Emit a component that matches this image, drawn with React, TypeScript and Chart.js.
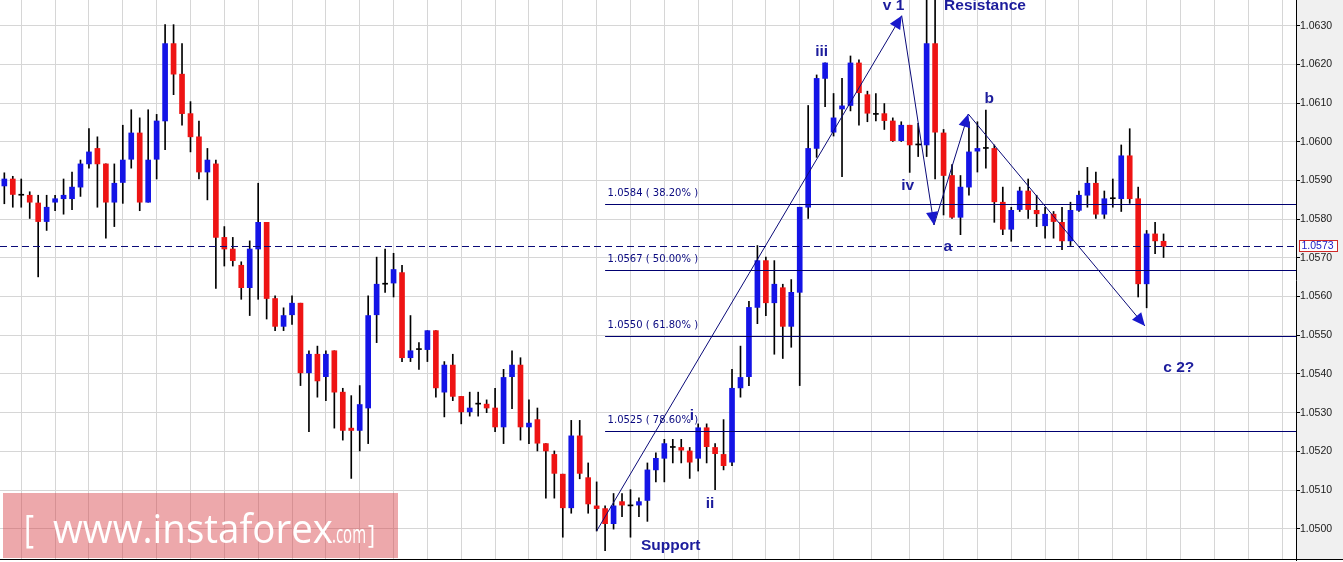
import { useEffect, useRef } from 'react';
import { Chart, registerables } from 'chart.js';

Chart.register(...registerables);

// ---- candle data (EURUSD-like), index 0..137 ----
const opens = [
  1.05886, 1.05904, 1.05862, 1.05862, 1.05842, 1.05794, 1.05844, 1.05853, 1.05853, 1.05883,
  1.05943, 1.05983, 1.05943, 1.05844, 1.05895, 1.05955, 1.06023, 1.05844, 1.05955, 1.06054,
  1.06254, 1.06175, 1.06073, 1.06013, 1.05922, 1.05943, 1.05753, 1.05723, 1.05681, 1.05623,
  1.05723, 1.05792, 1.05595, 1.05523, 1.05553, 1.05583, 1.05403, 1.05451, 1.05393, 1.05460,
  1.05353, 1.05260, 1.05254, 1.05312, 1.05553, 1.05632, 1.05635, 1.05662, 1.05442, 1.05463,
  1.05463, 1.05512, 1.05353, 1.05423, 1.05342, 1.05302, 1.05322, 1.05322, 1.05312, 1.05263,
  1.05393, 1.05423, 1.05263, 1.05282, 1.05220, 1.05192, 1.05141, 1.05054, 1.05240, 1.05132,
  1.05059, 1.05052, 1.05013, 1.05070, 1.05059, 1.05061, 1.05073, 1.05152, 1.05182, 1.05210,
  1.05210, 1.05201, 1.05182, 1.05261, 1.05210, 1.05192, 1.05172, 1.05364, 1.05393, 1.05572,
  1.05693, 1.05584, 1.05623, 1.05523, 1.05611, 1.05831, 1.05983, 1.06164, 1.06025, 1.06085,
  1.06094, 1.06204, 1.06122, 1.06071, 1.06073, 1.06054, 1.06003, 1.06043, 1.05992, 1.05992,
  1.06254, 1.06023, 1.05913, 1.05805, 1.05883, 1.05976, 1.05983, 1.05983, 1.05844, 1.05774,
  1.05825, 1.05873, 1.05823, 1.05783, 1.05813, 1.05792, 1.05744, 1.05823, 1.05862, 1.05893,
  1.05813, 1.05853, 1.05853, 1.05964, 1.05853, 1.05633, 1.05762, 1.05743,
];
const highs = [
  1.05920, 1.05911, 1.05904, 1.05871, 1.05862, 1.05862, 1.05862, 1.05904, 1.05922, 1.05953,
  1.06034, 1.06013, 1.05943, 1.05943, 1.06043, 1.06083, 1.06062, 1.06083, 1.06071, 1.06303,
  1.06303, 1.06254, 1.06104, 1.06054, 1.05983, 1.05953, 1.05781, 1.05753, 1.05690, 1.05744,
  1.05893, 1.05792, 1.05602, 1.05571, 1.05602, 1.05583, 1.05460, 1.05472, 1.05460, 1.05460,
  1.05363, 1.05344, 1.05370, 1.05602, 1.05702, 1.05723, 1.05712, 1.05681, 1.05551, 1.05481,
  1.05512, 1.05512, 1.05432, 1.05451, 1.05342, 1.05353, 1.05353, 1.05333, 1.05363, 1.05412,
  1.05460, 1.05442, 1.05333, 1.05312, 1.05220, 1.05201, 1.05141, 1.05280, 1.05280, 1.05170,
  1.05121, 1.05059, 1.05091, 1.05091, 1.05101, 1.05080, 1.05170, 1.05196, 1.05231, 1.05231,
  1.05231, 1.05210, 1.05271, 1.05271, 1.05220, 1.05282, 1.05412, 1.05472, 1.05588, 1.05732,
  1.05702, 1.05693, 1.05632, 1.05644, 1.05831, 1.06094, 1.06173, 1.06204, 1.06125, 1.06164,
  1.06222, 1.06212, 1.06131, 1.06125, 1.06099, 1.06062, 1.06052, 1.06043, 1.06048, 1.06395,
  1.06380, 1.06032, 1.05941, 1.05913, 1.06052, 1.06052, 1.06082, 1.05992, 1.05883, 1.05831,
  1.05883, 1.05904, 1.05862, 1.05831, 1.05820, 1.05831, 1.05844, 1.05873, 1.05934, 1.05922,
  1.05873, 1.05904, 1.05992, 1.06034, 1.05883, 1.05771, 1.05792, 1.05762,
];
const lows = [
  1.05840, 1.05831, 1.05831, 1.05802, 1.05651, 1.05771, 1.05822, 1.05813, 1.05825, 1.05859,
  1.05932, 1.05831, 1.05751, 1.05781, 1.05841, 1.05932, 1.05822, 1.05844, 1.05904, 1.05980,
  1.06122, 1.06043, 1.05974, 1.05904, 1.05850, 1.05621, 1.05679, 1.05679, 1.05593, 1.05551,
  1.05593, 1.05542, 1.05512, 1.05512, 1.05528, 1.05370, 1.05251, 1.05340, 1.05331, 1.05260,
  1.05229, 1.05130, 1.05201, 1.05220, 1.05481, 1.05611, 1.05599, 1.05432, 1.05432, 1.05412,
  1.05432, 1.05340, 1.05289, 1.05331, 1.05271, 1.05291, 1.05291, 1.05300, 1.05251, 1.05220,
  1.05310, 1.05229, 1.05220, 1.05201, 1.05079, 1.05079, 1.04978, 1.05040, 1.05129, 1.05040,
  1.04994, 1.04943, 1.04999, 1.05031, 1.04978, 1.05031, 1.05019, 1.05121, 1.05121, 1.05170,
  1.05170, 1.05130, 1.05149, 1.05170, 1.05101, 1.05152, 1.05163, 1.05340, 1.05370, 1.05530,
  1.05551, 1.05451, 1.05440, 1.05469, 1.05370, 1.05802, 1.05960, 1.06091, 1.06015, 1.05910,
  1.06080, 1.06043, 1.06052, 1.06054, 1.06032, 1.06001, 1.06001, 1.05921, 1.05962, 1.05962,
  1.05904, 1.05811, 1.05802, 1.05760, 1.05862, 1.05922, 1.05932, 1.05792, 1.05760, 1.05743,
  1.05820, 1.05802, 1.05781, 1.05751, 1.05751, 1.05721, 1.05732, 1.05820, 1.05831, 1.05802,
  1.05802, 1.05831, 1.05820, 1.05841, 1.05599, 1.05571, 1.05711, 1.05701,
];
const closes = [
  1.05904, 1.05864, 1.05862, 1.05844, 1.05794, 1.05831, 1.05853, 1.05862, 1.05883, 1.05943,
  1.05974, 1.05943, 1.05844, 1.05893, 1.05953, 1.06023, 1.05844, 1.05953, 1.06054, 1.06254,
  1.06175, 1.06073, 1.06013, 1.05922, 1.05953, 1.05753, 1.05723, 1.05693, 1.05623, 1.05723,
  1.05792, 1.05595, 1.05523, 1.05551, 1.05583, 1.05403, 1.05451, 1.05382, 1.05451, 1.05353,
  1.05254, 1.05254, 1.05321, 1.05551, 1.05632, 1.05632, 1.05670, 1.05442, 1.05460, 1.05463,
  1.05512, 1.05364, 1.05423, 1.05342, 1.05302, 1.05312, 1.05322, 1.05312, 1.05263, 1.05391,
  1.05423, 1.05263, 1.05273, 1.05221, 1.05201, 1.05143, 1.05054, 1.05240, 1.05143, 1.05064,
  1.05052, 1.05013, 1.05059, 1.05061, 1.05059, 1.05070, 1.05152, 1.05182, 1.05220, 1.05210,
  1.05203, 1.05172, 1.05261, 1.05212, 1.05194, 1.05163, 1.05363, 1.05391, 1.05572, 1.05693,
  1.05584, 1.05632, 1.05523, 1.05611, 1.05831, 1.05983, 1.06164, 1.06204, 1.06062, 1.06093,
  1.06204, 1.06127, 1.06074, 1.06071, 1.06055, 1.06003, 1.06043, 1.05992, 1.05992, 1.06254,
  1.06025, 1.05913, 1.05805, 1.05883, 1.05974, 1.05983, 1.05983, 1.05845, 1.05774, 1.05823,
  1.05873, 1.05825, 1.05814, 1.05813, 1.05794, 1.05744, 1.05823, 1.05862, 1.05893, 1.05813,
  1.05853, 1.05853, 1.05964, 1.05853, 1.05633, 1.05762, 1.05744, 1.05730,
];

// vertical grid positions (candle index)
const xGridIdx = [
  0, 4, 8, 12, 16, 20, 24, 28, 32, 36, 40, 44, 48, 52, 56, 60, 64, 68, 72, 76, 80, 84, 88, 92, 96, 100,
  105, 109, 113, 117, 121, 125, 129, 133, 137, 141, 145, 149,
];

// Fibonacci retracement
const swingHigh = 1.06395;
const swingLow = 1.04943;
const fibRatios = [0.382, 0.5, 0.618, 0.786];
const fibStartIdx = 71;

const currentPrice = 1.0573;

// Elliott wave path [candle index, price]
const wavePath: [number, number][] = [
  [70.0, 1.04994],
  [106.05, 1.06326],
  [109.87, 1.05785],
  [113.92, 1.06072],
  [134.8, 1.05524],
];

const waveLabels: { t: string; i: number; p: number }[] = [
  { t: 'v 1', i: 105.1, p: 1.06351 },
  { t: 'Resistance', i: 115.9, p: 1.06351 },
  { t: 'iii', i: 96.6, p: 1.06232 },
  { t: 'iv', i: 106.75, p: 1.05887 },
  { t: 'b', i: 116.4, p: 1.06112 },
  { t: 'a', i: 111.5, p: 1.05728 },
  { t: 'ii', i: 83.4, p: 1.05065 },
  { t: 'i', i: 81.25, p: 1.05291 },
  { t: 'Support', i: 78.75, p: 1.04957 },
  { t: 'c 2?', i: 138.8, p: 1.05417 },
];

const X_MIN = -0.512;
const X_MAX = 152.652;
const Y_MIN = 1.049191;
const Y_MAX = 1.063667;

const UP = '#1414e6';
const DOWN = '#ee1414';
const NAVY = '#0a0a78';
const LABEL = '#1c1c9c';

const idx = opens.map((_, i) => i);
const bodyColors = idx.map((i) =>
  closes[i] > opens[i] ? UP : closes[i] < opens[i] ? DOWN : '#000000'
);

const overlayPlugin = {
  id: 'overlay',
  beforeDraw(chart: any) {
    const { ctx, chartArea: ca, width } = chart;
    ctx.save();
    ctx.fillStyle = '#f0f0f0';
    ctx.fillRect(ca.right, 0, width - ca.right, ca.bottom);
    ctx.restore();
  },
  afterDatasetsDraw(chart: any) {
    const { ctx, chartArea: ca, scales } = chart;
    const x = scales.x;
    const y = scales.y;
    ctx.save();
    ctx.beginPath();
    ctx.rect(ca.left, ca.top, ca.right - ca.left, ca.bottom - ca.top);
    ctx.clip();

    // current price dashed line
    const cy = Math.round(y.getPixelForValue(currentPrice)) + 0.5;
    ctx.strokeStyle = NAVY;
    ctx.lineWidth = 1;
    ctx.setLineDash([7, 4]);
    ctx.beginPath();
    ctx.moveTo(ca.left, cy);
    ctx.lineTo(ca.right, cy);
    ctx.stroke();
    ctx.setLineDash([]);

    // fib levels
    const fx = x.getPixelForValue(fibStartIdx);
    ctx.font = '10px "DejaVu Sans", Tahoma, sans-serif';
    ctx.textBaseline = 'middle';
    ctx.textAlign = 'left';
    fibRatios.forEach((r) => {
      const v = swingHigh - r * (swingHigh - swingLow);
      const py = Math.round(y.getPixelForValue(v)) + 0.5;
      ctx.strokeStyle = '#000070';
      ctx.lineWidth = 1.2;
      ctx.beginPath();
      ctx.moveTo(fx, py);
      ctx.lineTo(ca.right, py);
      ctx.stroke();
      ctx.fillStyle = '#0a0a80';
      ctx.fillText(`${v.toFixed(4)} ( ${(r * 100).toFixed(2)}% )`, fx + 2.5, py - 11);
    });

    // wave lines
    const pts = wavePath.map(([i, p]) => [x.getPixelForValue(i), y.getPixelForValue(p)]);
    ctx.strokeStyle = NAVY;
    ctx.lineWidth = 1;
    ctx.beginPath();
    pts.forEach(([px, py], k) => (k === 0 ? ctx.moveTo(px, py) : ctx.lineTo(px, py)));
    ctx.stroke();
    // arrowheads
    ctx.fillStyle = '#1818cc';
    for (let k = 1; k < pts.length; k++) {
      const [tx, ty] = pts[k];
      const [sx, sy] = pts[k - 1];
      const len = Math.hypot(tx - sx, ty - sy);
      const dx = (tx - sx) / len;
      const dy = (ty - sy) / len;
      const L = 13;
      const W = 6;
      const bx = tx - dx * L;
      const by = ty - dy * L;
      ctx.beginPath();
      ctx.moveTo(tx, ty);
      ctx.lineTo(bx - dy * W, by + dx * W);
      ctx.lineTo(bx + dy * W, by - dx * W);
      ctx.closePath();
      ctx.fill();
    }

    // wave labels
    ctx.font = 'bold 15.5px "Liberation Sans", Arial, sans-serif';
    ctx.textAlign = 'center';
    ctx.textBaseline = 'middle';
    ctx.fillStyle = LABEL;
    waveLabels.forEach((l) => {
      ctx.fillText(l.t, x.getPixelForValue(l.i), y.getPixelForValue(l.p));
    });
    ctx.restore();
  },
  afterDraw(chart: any) {
    const { ctx, chartArea: ca, scales, width } = chart;
    const y = scales.y;
    ctx.save();
    // bottom border
    ctx.fillStyle = '#000';
    ctx.fillRect(0, ca.bottom - 1, width, 1);

    // price tag
    const cy = y.getPixelForValue(closes[closes.length - 1]);
    const bx = Math.round(ca.right) + 3.5;
    const by = Math.round(cy - 6) + 0.5;
    ctx.fillStyle = '#ffffff';
    ctx.fillRect(bx, by, 38, 11);
    ctx.strokeStyle = '#d02828';
    ctx.lineWidth = 1;
    ctx.strokeRect(bx, by, 38, 11);
    ctx.fillStyle = '#2020c8';
    ctx.font = '10.5px "Liberation Sans", Arial, sans-serif';
    ctx.textAlign = 'left';
    ctx.textBaseline = 'middle';
    ctx.fillText(closes[closes.length - 1].toFixed(4), bx + 2, by + 6);

    // watermark
    ctx.fillStyle = 'rgba(214, 62, 68, 0.45)';
    ctx.fillRect(3, 493, 395, 65);
    ctx.fillStyle = '#ffffff';
    ctx.textAlign = 'left';
    ctx.textBaseline = 'alphabetic';
    const fit = (text: string, font: string, left: number, right: number, base: number) => {
      ctx.font = font;
      const w = ctx.measureText(text).width;
      ctx.save();
      ctx.translate(left, base);
      ctx.scale((right - left) / w, 1);
      ctx.fillText(text, 0, 0);
      ctx.restore();
    };
    fit('[', '38px "Open Sans", sans-serif', 24, 34, 543);
    fit('www.instaforex', '40px "Open Sans", sans-serif', 53, 333, 543);
    fit('.com', '25px "Open Sans", sans-serif', 332, 366, 543);
    fit(']', '26px "Open Sans", sans-serif', 368, 375, 543);
    ctx.restore();
  },
};

export default function App() {
  const ref = useRef<HTMLCanvasElement>(null);
  useEffect(() => {
    const chart = new Chart(ref.current as HTMLCanvasElement, {
      type: 'bar',
      data: {
        datasets: [
          {
            label: 'wick',
            data: idx.map((i) => ({ x: i, y: [lows[i], highs[i]] })) as any,
            backgroundColor: '#000000',
            barThickness: 1,
            grouped: false,
            borderWidth: 0,
            order: 2,
          } as any,
          {
            label: 'body',
            data: idx.map((i) => ({ x: i, y: [opens[i], closes[i]] })) as any,
            backgroundColor: bodyColors,
            barThickness: 5,
            minBarLength: 1,
            grouped: false,
            borderWidth: 0,
            order: 1,
          } as any,
        ],
      },
      options: {
        responsive: false,
        animation: false,
        events: [],
        layout: { padding: { left: 0, right: 0, top: 0, bottom: 2 } },
        plugins: { legend: { display: false }, tooltip: { enabled: false } },
        scales: {
          x: {
            type: 'linear',
            min: X_MIN,
            max: X_MAX,
            offset: false,
            ticks: { display: false },
            grid: { color: '#d6d6d6', drawTicks: false, lineWidth: 1 },
            border: { display: false },
            afterBuildTicks: (s: any) => {
              s.ticks = xGridIdx.map((v) => ({ value: v }));
            },
            afterFit: (s: any) => {
              s.paddingLeft = 0;
              s.paddingRight = 0;
            },
          },
          y: {
            position: 'right',
            min: Y_MIN,
            max: Y_MAX,
            afterFit: (s: any) => {
              s.width = 47;
              s.paddingTop = 0;
              s.paddingBottom = 0;
            },
            border: { display: true, color: '#000000', width: 1 },
            grid: { color: '#d6d6d6', tickColor: '#000000', tickLength: 4 },
            ticks: {
              stepSize: 0.001,
              includeBounds: false,
              padding: 0,
              autoSkip: false,
              color: '#202020',
              font: { family: '"Liberation Sans", Arial, sans-serif', size: 10.5 },
              callback: (v: any) => Number(v).toFixed(4),
            },
          },
        } as any,
      },
      plugins: [overlayPlugin],
    });
    return () => chart.destroy();
  }, []);
  return (
    <div style={{ position: 'fixed', left: 0, top: 0, width: 1343, height: 562, background: '#ffffff' }}>
      <canvas ref={ref} width={1343} height={562} style={{ display: 'block', width: 1343, height: 562 }} />
    </div>
  );
}
